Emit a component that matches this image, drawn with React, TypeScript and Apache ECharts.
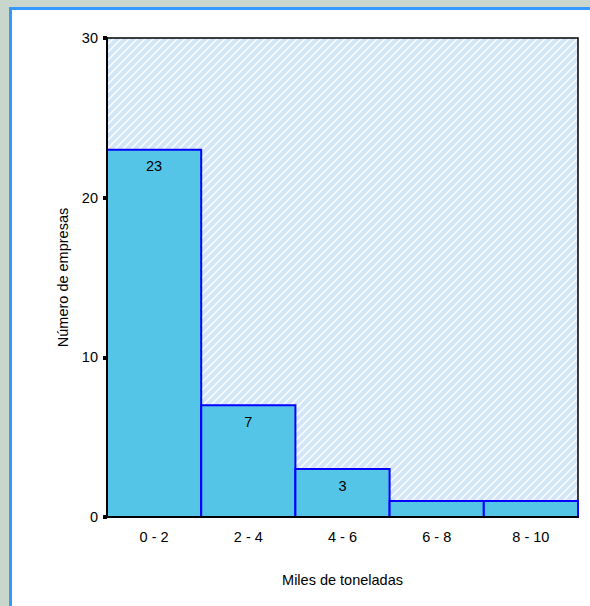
import React, { useEffect, useRef } from "react";
import * as echarts from "echarts";

const categories = ["0 - 2", "2 - 4", "4 - 6", "6 - 8", "8 - 10"];
const counts = [23, 7, 3, 1, 1];
const yMin = 0;
const yMax = 30;
const yStep = 10;
const xTitle = "Miles de toneladas";
const yTitle = "Número de empresas";

const FONT = "'Liberation Sans', Arial, sans-serif";
const FS = 14.5;

function makeHatch(): HTMLCanvasElement {
  const c = document.createElement("canvas");
  c.width = 8;
  c.height = 8;
  const ctx = c.getContext("2d")!;
  ctx.fillStyle = "#d2e6f8";
  ctx.fillRect(0, 0, 8, 8);
  ctx.strokeStyle = "#ffffff";
  ctx.lineWidth = 1.4;
  ctx.beginPath();
  ctx.moveTo(-2, 10);
  ctx.lineTo(10, -2);
  ctx.moveTo(-6, 6);
  ctx.lineTo(6, -6);
  ctx.moveTo(2, 14);
  ctx.lineTo(14, 2);
  ctx.stroke();
  return c;
}

export default function App() {
  const ref = useRef<HTMLDivElement>(null);

  useEffect(() => {
    if (!ref.current) return;
    const chart = echarts.init(ref.current, null, { renderer: "svg" });
    const gridLeft = 107;
    const gridTop = 38;
    const gridW = 471;
    const gridH = 479;
    const hatch = makeHatch();

    chart.setOption({
      animation: false,
      graphic: [
        { type: "rect", z: -20, shape: { x: 0, y: 0, width: 590, height: 606 }, style: { fill: "#c9d6ce" } },
        { type: "rect", z: -18, shape: { x: 9, y: 7, width: 581, height: 599 }, style: { fill: "#ffffff" } },
        { type: "rect", z: -17, shape: { x: 9, y: 7, width: 581, height: 3 }, style: { fill: "#3399ff" } },
        { type: "rect", z: -17, shape: { x: 9, y: 7, width: 3, height: 599 }, style: { fill: "#3399ff" } },
        {
          type: "rect",
          z: -16,
          shape: { x: gridLeft, y: gridTop, width: gridW, height: gridH },
          style: { fill: { image: hatch, repeat: "repeat", imageWidth: 8, imageHeight: 8 } as any },
        },
      ],
      grid: {
        left: gridLeft,
        top: gridTop,
        width: gridW,
        height: gridH,
        show: true,
        backgroundColor: "transparent",
        borderColor: "#000",
        borderWidth: 1.5,
      },
      xAxis: {
        type: "category",
        data: categories,
        z: 5,
        axisLine: { show: true, lineStyle: { color: "#000", width: 2 } },
        axisTick: { show: false },
        axisLabel: { margin: 12, fontSize: FS, color: "#000", fontFamily: FONT },
        name: xTitle,
        nameLocation: "middle",
        nameGap: 55,
        nameTextStyle: { fontSize: FS, color: "#000", fontFamily: FONT },
      },
      yAxis: {
        type: "value",
        min: yMin,
        max: yMax,
        interval: yStep,
        z: 5,
        axisLine: { show: true, lineStyle: { color: "#000", width: 2 } },
        axisTick: { show: true, length: 4, lineStyle: { color: "#000", width: 4 } },
        axisLabel: { margin: 9, fontSize: FS, color: "#000", fontFamily: FONT },
        splitLine: { show: false },
        name: yTitle,
        nameLocation: "middle",
        nameGap: 37,
        nameTextStyle: { fontSize: FS, color: "#000", fontFamily: FONT },
      },
      series: [
        {
          type: "custom",
          data: counts.map((v, i) => [i, v]),
          encode: { x: 0, y: 1 },
          renderItem: (params: any, api: any) => {
            const idx = api.value(0);
            const v = api.value(1);
            const top = api.coord([idx, v]);
            const bottom = api.coord([idx, 0]);
            const bw = api.size([1, 0])[0];
            return {
              type: "rect",
              shape: { x: top[0] - bw / 2, y: top[1], width: bw, height: bottom[1] - top[1] },
              style: { fill: "#54c5e6", stroke: "#0000ff", lineWidth: 2 },
              textContent:
                v > 1
                  ? {
                      style: {
                        text: String(v),
                        fontSize: FS,
                        fill: "#000",
                        fontFamily: FONT,
                      },
                    }
                  : undefined,
              textConfig: { position: "insideTop", distance: 10 },
            };
          },
        },
      ],
    });
    return () => chart.dispose();
  }, []);

  return (
    <div
      ref={ref}
      style={{ position: "absolute", left: 0, top: 0, width: 590, height: 606 }}
    />
  );
}
